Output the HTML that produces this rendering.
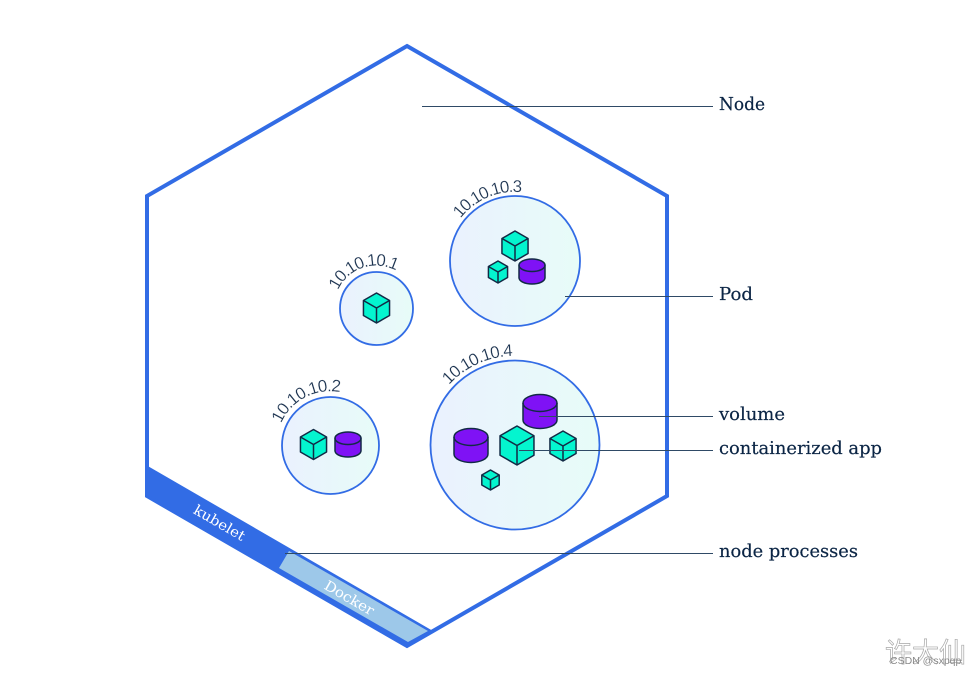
<!DOCTYPE html>
<html>
<head>
<meta charset="utf-8">
<style>
html,body{margin:0;padding:0;background:#fff;width:975px;height:674px;overflow:hidden}
svg{display:block}
.lab{font-family:"DejaVu Serif","Liberation Serif",serif;font-size:18px;fill:#0b2545;stroke:#0b2545;stroke-width:.2px}
.ip{font-family:"Liberation Sans",sans-serif;font-size:17px;letter-spacing:-.9px;fill:#1c3350;stroke:#fff;stroke-width:.2px}
.w{font-family:"DejaVu Serif","Liberation Serif",serif;font-size:14px;fill:#fff}
.c{fill:#04f5cf;stroke:#122a45;stroke-width:1.5;stroke-linejoin:round}
.v{fill:#7f12f5;stroke:#122a45;stroke-width:1.5}
.l{stroke:#2f4a66;stroke-width:1;fill:none}
</style>
</head>
<body>
<svg width="975" height="674" viewBox="0 0 975 674" xmlns="http://www.w3.org/2000/svg">
<defs>
<linearGradient id="g"><stop offset="0" stop-color="#eaf1fe"/><stop offset="1" stop-color="#e7fcf8"/></linearGradient>
<path id="a1" d="M336.5 294 A42 42 0 0 1 417 297.6"/>
<path id="a2" d="M281 423.5 A54 54 0 0 1 382.5 431"/>
<path id="a3" d="M460.5 218.5 A69 69 0 0 1 581 241"/>
<path id="a4" d="M449 385 A89 89 0 0 1 600 419"/>
<g id="cube">
<path class="c" d="M0 -1 L.87 -.5 V.5 L0 1 L-.87 .5 V-.5 Z" vector-effect="non-scaling-stroke"/>
<path class="c" style="fill:none" d="M-.87 -.5 L0 0 L.87 -.5 M0 0 V1" vector-effect="non-scaling-stroke"/>
</g>
<g id="cyl">
<path class="v" d="M-1 -.5 V.5 A1 .5 0 0 0 1 .5 V-.5 A1 .5 0 0 0 -1 -.5 Z" vector-effect="non-scaling-stroke"/>
<path class="v" style="fill:none" d="M-1 -.5 A1 .5 0 0 0 1 -.5" vector-effect="non-scaling-stroke"/>
</g>
</defs>

<!-- node processes band -->
<polygon points="146,465 433,631 407,648 146,497" fill="#326ce5"/>
<polygon points="289,551 428,631 408,642 279,568" fill="#9dc8e9"/>
<polygon points="407,46 667,196 667,496 407,646 147,496 147,196" fill="none" stroke="#326ce5" stroke-width="4"/>
<text class="w" transform="translate(217,527) rotate(30)" text-anchor="middle" textLength="57" lengthAdjust="spacingAndGlyphs">kubelet</text>
<text class="w" transform="translate(347,602) rotate(30)" text-anchor="middle" textLength="55" lengthAdjust="spacingAndGlyphs">Docker</text>

<!-- pods -->
<circle cx="376.5" cy="308.5" r="36.5" fill="url(#g)" stroke="#326ce5" stroke-width="1.8"/>
<circle cx="515" cy="261" r="65" fill="url(#g)" stroke="#326ce5" stroke-width="1.8"/>
<circle cx="330.5" cy="445.5" r="48.5" fill="url(#g)" stroke="#326ce5" stroke-width="1.8"/>
<circle cx="515" cy="445" r="84.5" fill="url(#g)" stroke="#326ce5" stroke-width="1.8"/>

<text class="ip" style="letter-spacing:-1.3px"><textPath href="#a1" startOffset="4">10.10.10.1</textPath></text>
<text class="ip"><textPath href="#a2">10.10.10.2</textPath></text>
<text class="ip" style="letter-spacing:-1.2px"><textPath href="#a3">10.10.10.3</textPath></text>
<text class="ip"><textPath href="#a4">10.10.10.4</textPath></text>

<!-- cubes -->
<use href="#cube" transform="translate(376.5,308) scale(15)"/>
<use href="#cube" transform="translate(515,246) scale(15)"/>
<use href="#cube" transform="translate(498,272) scale(11)"/>
<use href="#cube" transform="translate(313.5,444.5) scale(15)"/>
<use href="#cube" transform="translate(517,445.5) scale(19.5)"/>
<use href="#cube" transform="translate(563,446) scale(15)"/>
<use href="#cube" transform="translate(490.5,480) scale(10)"/>

<!-- volumes -->
<use href="#cyl" transform="translate(532,271.5) scale(13,12.5)"/>
<use href="#cyl" transform="translate(348,444.5) scale(13,12.5)"/>
<use href="#cyl" transform="translate(540,411.5) scale(17)"/>
<use href="#cyl" transform="translate(471,445.5) scale(17)"/>

<!-- leaders -->
<path class="l" d="M422 106.5H713M565 296.5H713M539 416.5H713M519 450.5H713M285 553.5H713"/>

<text class="lab" x="719" y="110" textLength="46" lengthAdjust="spacingAndGlyphs">Node</text>
<text class="lab" x="719" y="300" textLength="34" lengthAdjust="spacingAndGlyphs">Pod</text>
<text class="lab" x="719" y="420" textLength="66" lengthAdjust="spacingAndGlyphs">volume</text>
<text class="lab" x="719" y="454" textLength="163" lengthAdjust="spacingAndGlyphs">containerized app</text>
<text class="lab" x="719" y="557" textLength="139" lengthAdjust="spacingAndGlyphs">node processes</text>

<!-- watermark -->
<text x="885" y="662" font-family="'Noto Sans CJK SC',sans-serif" font-size="27" fill="#fff" stroke="#a8a8a8" stroke-width=".7">许大仙</text>
<text x="890" y="664" font-family="'Liberation Sans',sans-serif" font-size="10.5" fill="#8a8a8a">CSDN @sxpqp</text>
</svg>
</body>
</html>
